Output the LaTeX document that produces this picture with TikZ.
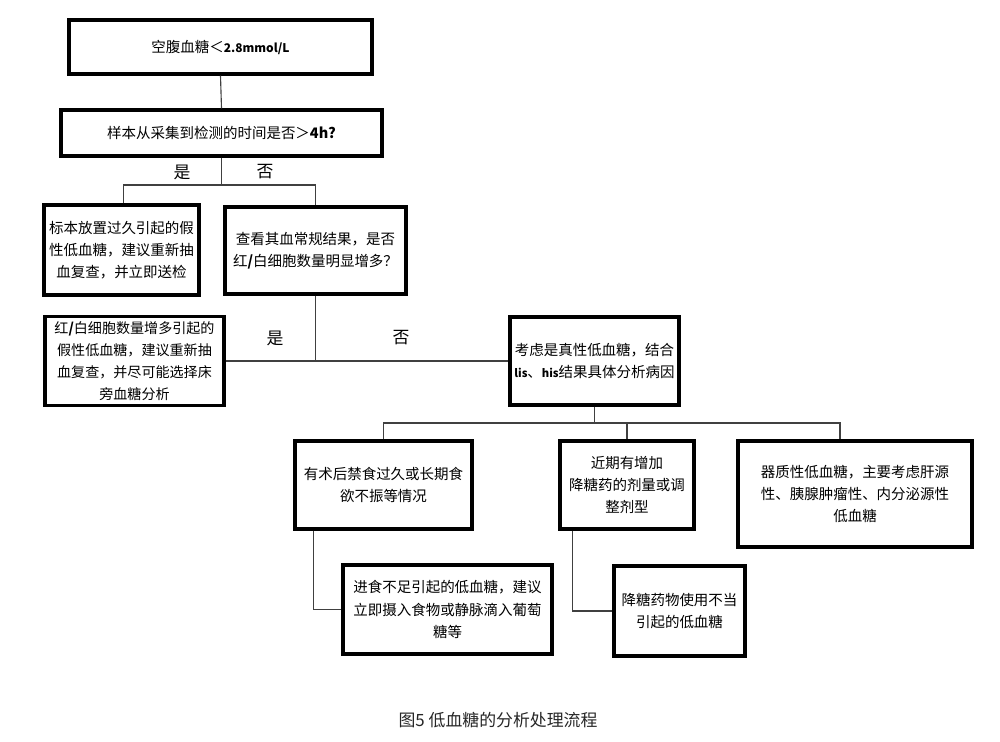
\documentclass[tikz,border=0pt]{standalone}
\usepackage{fontspec}
\setmainfont{Noto Sans CJK SC}
\usepackage{tikz}

\begin{document}
\begin{tikzpicture}[x=0.025cm,y=-0.025cm,
    box/.style={draw, line width=2.2pt, align=center, inner sep=0pt, font=\fontsize{10.3}{15.8}\selectfont},
    link/.style={draw=black!75, line width=0.8pt},
    yesno/.style={font=\fontsize{12}{14}\selectfont}]
	      \useasboundingbox (0,0) rectangle (1000,742);

	      \node[box, minimum width=7.575cm, minimum height=1.35cm] (b1) at (220.5,47) {空腹血糖＜{\bfseries\fontsize{8.5}{10}\selectfont 2.8mmol/L}};
	      \node[box, minimum width=8.025cm, minimum height=1.15cm] (b2) at (221.5,133) {样本从采集到检测的时间是否＞{\bfseries 4h?}};

	      \node[box, minimum width=3.875cm, minimum height=2.25cm] (b3) at (121.5,250) {标本放置过久引起的假\\性低血糖，建议重新抽\\血复查，并立即送检};
	      \node[box, minimum width=4.525cm, minimum height=2.175cm] (b4) at (315.5,250.5) {查看其血常规结果，是否\\红{\bfseries/}白细胞数量明显增多？};

	      \node[box, minimum width=4.475cm, minimum height=2.225cm, font=\fontsize{10}{15.8}\selectfont] (b5) at (134.5,361) {红{\bfseries/}白细胞数量增多引起的\\假性低血糖，建议重新抽\\血复查，并尽可能选择床\\旁血糖分析};
	      \node[box, minimum width=4.225cm, minimum height=2.2cm] (b6) at (594.5,361) {考虑是真性低血糖，结合\\{\bfseries\fontsize{8}{10}\selectfont lis}、{\bfseries\fontsize{8}{10}\selectfont his}结果具体分析病因};

	      \node[box, minimum width=4.425cm, minimum height=2.2cm] (b7) at (383.5,485) {有术后禁食过久或长期食\\欲不振等情况};
	      \node[box, minimum width=3.35cm, minimum height=2.2cm] (b8) at (627,485) {近期有增加\\降糖药的剂量或调\\整剂型};
	      \node[box, minimum width=5.85cm, minimum height=2.65cm] (b9) at (855,494) {器质性低血糖，主要考虑肝源\\性、胰腺肿瘤性、内分泌源性\\低血糖};

	      \node[box, minimum width=5.225cm, minimum height=2.225cm] (b10) at (447.5,609.5) {进食不足引起的低血糖，建议\\立即摄入食物或静脉滴入葡萄\\糖等};
	      \node[box, minimum width=3.275cm, minimum height=2.25cm] (b11) at (679.5,611) {降糖药物使用不当\\引起的低血糖};

	      \node[yesno] (y1) at (182,172) {是};
	      \node[yesno] (n1) at (265,172) {否};
	      \node[yesno] (y2) at (275,338) {是};
	      \node[yesno] (n2) at (401,338) {否};

	      \node[font=\fontsize{12}{14}\selectfont, text=black!85] (cap) at (498,720) {图5 低血糖的分析处理流程};

	      \coordinate (s1) at (221.5,185);
	      \coordinate (s2) at (594.5,423);

	      \draw[link] (b1.south) -- (b2.north);
	      \draw[link] (b2.south) -- (s1);
	      \draw[link] ([xshift=0.04cm]b3.north) |- (s1) -| (b4.north);

	      \draw[link] (b4.south) -- (b4.south |- b6.west);
	      \draw[link] (b5.east) -- (b6.west);

	      \draw[link] (b6.south) -- (s2);
	      \draw[link] (b7.north) |- (s2) -| ([xshift=-0.375cm]b9.north);
	      \draw[link] (b8.north) -- (b8.north |- s2);

	      \draw[link] ([xshift=0.5cm]b7.south west) |- (b10.west);
	      \draw[link] ([xshift=0.35cm]b8.south west) |- (b11.west);

	      \end{tikzpicture}
\end{document}
